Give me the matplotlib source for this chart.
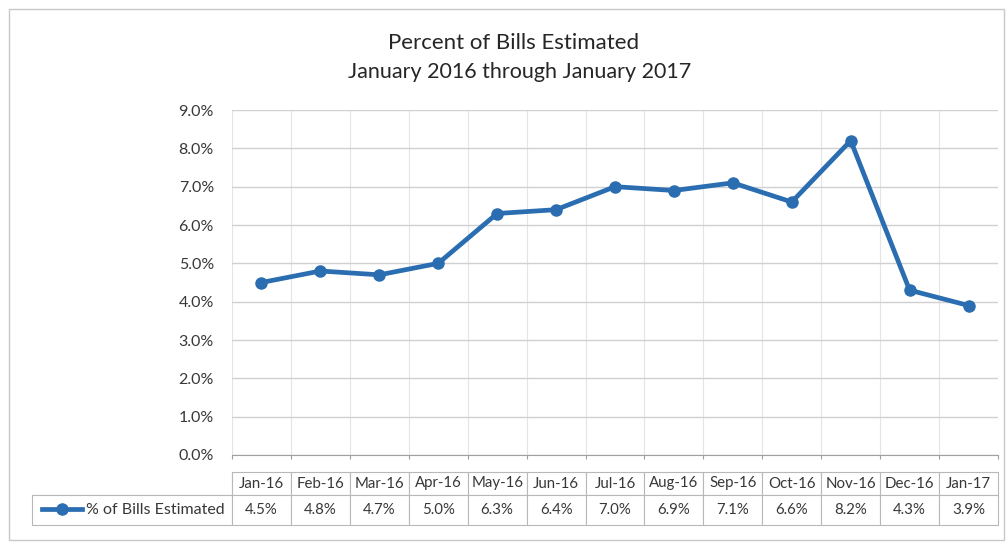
import matplotlib.pyplot as plt
import numpy as np

months = ['Jan-16', 'Feb-16', 'Mar-16', 'Apr-16', 'May-16', 'Jun-16', 'Jul-16',
          'Aug-16', 'Sep-16', 'Oct-16', 'Nov-16', 'Dec-16', 'Jan-17']
pct_estimated = [4.5, 4.8, 4.7, 5.0, 6.3, 6.4, 7.0, 6.9, 7.1, 6.6, 8.2, 4.3, 3.9]
series_name = '% of Bills Estimated'

plt.rcParams['font.family'] = ['Lato', 'DejaVu Sans']
line_color = '#2a6db0'
text_color = '#383838'
grid_color = '#d0d0d0'

W, H = 1006, 544
fig = plt.figure(figsize=(W / 100, H / 100), dpi=100)

# outer chart frame
fig.add_artist(plt.Rectangle((9 / W, 1 - 540 / H), 995 / W, 531 / H, transform=fig.transFigure,
                             fill=False, edgecolor='#c8c8c8', linewidth=1))

left, right, top, bottom = 232, 998, 110, 455
ax = fig.add_axes([left / W, 1 - bottom / H, (right - left) / W, (bottom - top) / H])

x = np.arange(len(months))
ax.plot(x, pct_estimated, color=line_color, linewidth=3.4, marker='o', markersize=8,
        markerfacecolor=line_color, markeredgecolor=line_color, label=series_name)

ax.set_xlim(-0.5, len(months) - 0.5)
ax.set_ylim(0, 9)
ax.set_yticks(np.arange(0, 10, 1))
ax.set_yticklabels([f'{v:.1f}%' for v in range(10)], fontsize=11.5, color=text_color)
ax.set_xticks(np.arange(-0.5, len(months), 1))
ax.set_xticklabels([])
ax.tick_params(axis='y', length=0, pad=13)
ax.tick_params(axis='x', length=3, color='#a0a0a0', direction='out')
ax.grid(axis='y', color=grid_color, linewidth=1)
ax.grid(axis='x', color='#e4e4e4', linewidth=0.8)
ax.set_axisbelow(True)
for s in ['left', 'right', 'top']:
    ax.spines[s].set_visible(False)
ax.spines['bottom'].set_color('#a0a0a0')

fig.text(514 / W, 1 - 43 / H, 'Percent of Bills Estimated', ha='center', va='center',
         fontsize=16, color='#262626')
fig.text(520 / W, 1 - 72 / H, 'January 2016 through January 2017', ha='center', va='center',
         fontsize=15.5, color='#262626')

# data table under the axis
tab_left, tab_right, tab_top, tab_mid, tab_bot = 32, 998, 472, 495, 525
ax_w, ax_h = right - left, bottom - top
cells = [[''] + months, [''] + [f'{v:.1f}%' for v in pct_estimated]]
tbl = ax.table(cellText=cells, cellLoc='center',
               bbox=[(tab_left - left) / ax_w, (bottom - tab_bot) / ax_h,
                     (tab_right - tab_left) / ax_w, (tab_bot - tab_top) / ax_h])
tbl.auto_set_font_size(False)
first_w = (left - tab_left) / (tab_right - tab_left)
col_w = (1 - first_w) / len(months)
for (r, c), cell in tbl.get_celld().items():
    cell.set_width(first_w if c == 0 else col_w)
    cell.set_height((tab_mid - tab_top) if r == 0 else (tab_bot - tab_mid))
    cell.set_edgecolor('#b8b8b8')
    cell.set_linewidth(0.8)
    cell.get_text().set_fontsize(10.8)
    cell.get_text().set_color(text_color)
    if r == 0 and c == 0:
        cell.visible_edges = 'BR'

leg = ax.legend(loc='center left', frameon=False, handlelength=2.5,
                handletextpad=0.25, borderaxespad=0,
                prop={'size': 11.5}, labelcolor=text_color,
                bbox_to_anchor=((tab_left + 4 - left) / ax_w,
                                (bottom - (tab_mid + tab_bot) / 2) / ax_h))

fig.savefig('out.png', dpi=100)
